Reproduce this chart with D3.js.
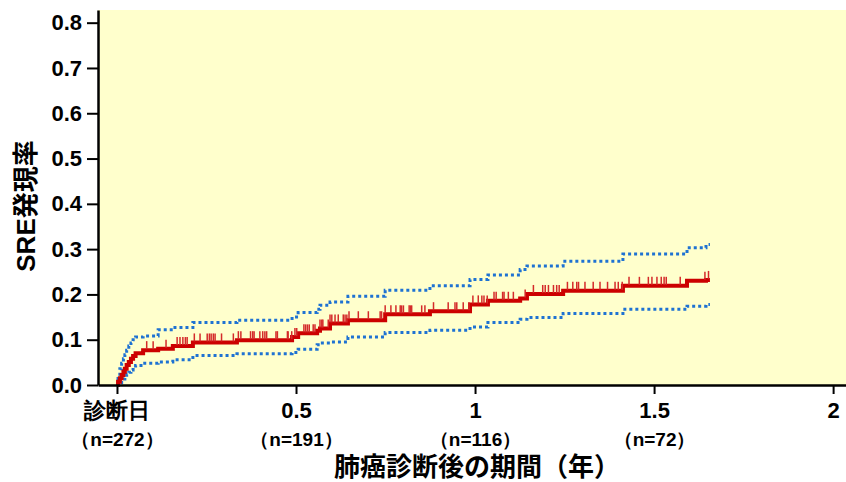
<!DOCTYPE html>
<html>
<head>
<meta charset="utf-8">
<script src="https://cdn.jsdelivr.net/npm/d3@7/dist/d3.min.js"></script>
<style>
  html, body { margin: 0; padding: 0; background: #fff; }
  svg { display: block; font-family: "Liberation Sans", Arial, "Noto Sans CJK JP", sans-serif; font-weight: bold; }
</style>
</head>
<body>
<svg id="chart" width="846" height="482"></svg>
<script>
// cumulative incidence of SRE after lung cancer diagnosis (years)
const stepTimes = [0, 0.003, 0.008, 0.013, 0.018, 0.022, 0.027, 0.033, 0.039, 0.045,
  0.052, 0.073, 0.115, 0.156, 0.212, 0.335, 0.489, 0.506, 0.559, 0.567,
  0.595, 0.645, 0.749, 0.874, 0.986, 1.036, 1.126, 1.145, 1.246, 1.413,
  1.592, 1.645];
const estimate = [0, 0.007, 0.015, 0.022, 0.029, 0.036, 0.044, 0.051, 0.058, 0.064,
  0.070, 0.077, 0.080, 0.086, 0.094, 0.099, 0.106, 0.114, 0.120, 0.125,
  0.136, 0.143, 0.156, 0.163, 0.178, 0.186, 0.191, 0.201, 0.208, 0.219,
  0.230, 0.232];
const upperCI = [0, 0.020, 0.036, 0.048, 0.058, 0.067, 0.077, 0.086, 0.093, 0.100,
  0.106, 0.108, 0.122, 0.127, 0.138, 0.143, 0.150, 0.160, 0.167, 0.176,
  0.183, 0.196, 0.209, 0.219, 0.233, 0.243, 0.255, 0.263, 0.273, 0.289,
  0.303, 0.310];
const lowerCI = [0, 0.002, 0.005, 0.009, 0.013, 0.018, 0.023, 0.028, 0.033, 0.038,
  0.043, 0.048, 0.051, 0.056, 0.065, 0.069, 0.072, 0.079, 0.089, 0.093,
  0.095, 0.106, 0.116, 0.121, 0.128, 0.138, 0.145, 0.149, 0.158, 0.167,
  0.174, 0.178];
const endTime = 1.656;

// censored observations (tick marks)
const censorTimes = [0.083, 0.101, 0.137, 0.168, 0.176, 0.184, 0.191, 0.196, 0.216, 0.232,
  0.252, 0.258, 0.263, 0.269, 0.274, 0.292, 0.325, 0.339, 0.346, 0.373,
  0.379, 0.383, 0.399, 0.407, 0.413, 0.418, 0.444, 0.448, 0.476, 0.478,
  0.488, 0.497, 0.502, 0.522, 0.527, 0.532, 0.537, 0.548, 0.553, 0.567,
  0.572, 0.575, 0.590, 0.595, 0.600, 0.609, 0.618, 0.632, 0.637, 0.642,
  0.648, 0.674, 0.702, 0.735, 0.739, 0.749, 0.765, 0.779, 0.791, 0.795,
  0.800, 0.816, 0.820, 0.823, 0.851, 0.860, 0.884, 0.925, 0.944, 0.949,
  0.967, 0.983, 0.994, 1.009, 1.019, 1.025, 1.034, 1.053, 1.059, 1.077,
  1.081, 1.093, 1.107, 1.140, 1.163, 1.189, 1.196, 1.205, 1.219, 1.228,
  1.235, 1.258, 1.273, 1.284, 1.289, 1.307, 1.330, 1.349, 1.370, 1.391,
  1.400, 1.411, 1.430, 1.459, 1.484, 1.494, 1.508, 1.520, 1.528, 1.534,
  1.573, 1.642, 1.652];

const xTicks = [0, 0.5, 1, 1.5, 2];
const xTickLabels = ['診断日', '0.5', '1', '1.5', '2'];
const atRiskLabels = ['（n=272）', '（n=191）', '（n=116）', '（n=72）', ''];
const yTicks = [0, 0.1, 0.2, 0.3, 0.4, 0.5, 0.6, 0.7, 0.8];
const xDomain = [-0.053, 2.036];
const yDomain = [0, 0.828];

const svg = d3.select('#chart');
const margin = { top: 10, right: 0, bottom: 97, left: 98 };
const width = 846 - margin.left - margin.right;
const height = 482 - margin.top - margin.bottom;

const g = svg.append('g').attr('transform', `translate(${margin.left},${margin.top})`);

const x = d3.scaleLinear().domain(xDomain).range([0, width]);
const y = d3.scaleLinear().domain(yDomain).range([height, 0]);

// plot background
g.append('rect').attr('width', width).attr('height', height).attr('fill', '#ffffcc');

function stepPoints(values) {
  const pts = stepTimes.map((t, i) => [t, values[i]]);
  pts.push([endTime, values[values.length - 1]]);
  return pts;
}

const line = d3.line().x(d => x(d[0])).y(d => y(d[1])).curve(d3.curveStepAfter);

// confidence band (dotted)
[upperCI, lowerCI].forEach(vals => {
  g.append('path')
    .datum(stepPoints(vals))
    .attr('d', line)
    .attr('fill', 'none')
    .attr('stroke', '#1e72d2')
    .attr('stroke-width', 3)
    .attr('stroke-dasharray', '3 3');
});

// estimate
g.append('path')
  .datum(stepPoints(estimate))
  .attr('d', line)
  .attr('fill', 'none')
  .attr('stroke', '#cc0000')
  .attr('stroke-width', 4);

// censor marks
const valueAt = t => estimate[Math.max(0, d3.bisectRight(stepTimes, t) - 1)];
g.selectAll('.censor')
  .data(censorTimes)
  .enter()
  .append('line')
  .attr('class', 'censor')
  .attr('x1', d => x(d)).attr('x2', d => x(d))
  .attr('y1', d => y(valueAt(d)) - 1)
  .attr('y2', d => y(valueAt(d)) - 9)
  .attr('stroke', '#d42a2a')
  .attr('stroke-width', 1.5);

// y axis
const yAxis = g.append('g')
  .call(d3.axisLeft(y).tickValues(yTicks).tickFormat(d3.format('.1f')).tickSize(11).tickSizeOuter(0).tickPadding(5));
yAxis.select('.domain').attr('stroke', '#000').attr('stroke-width', 2.5);
yAxis.selectAll('.tick line').attr('stroke', '#000').attr('stroke-width', 2);
yAxis.selectAll('text').attr('fill', '#000').style('font-size', '22px').style('font-weight', 'bold');

// x axis
const xAxis = g.append('g')
  .attr('transform', `translate(0,${height})`)
  .call(d3.axisBottom(x).tickValues(xTicks).tickSize(9).tickSizeOuter(0).tickFormat((d, i) => xTickLabels[i]));
xAxis.select('.domain').attr('stroke', '#000').attr('stroke-width', 2.5);
xAxis.selectAll('.tick line').attr('stroke', '#000').attr('stroke-width', 2);
xAxis.selectAll('.tick text')
  .attr('fill', '#000').attr('y', 33).attr('dy', 0)
  .style('font-size', '22px').style('font-weight', 'bold');
xAxis.selectAll('.tick').append('text')
  .attr('fill', '#000').attr('y', 61).attr('text-anchor', 'middle')
  .style('font-size', '19px').style('font-weight', 'bold')
  .text((d, i) => atRiskLabels[i]);

// axis titles
svg.append('text')
  .attr('x', 477).attr('y', 476)
  .attr('text-anchor', 'middle')
  .style('font-size', '26px')
  .text('肺癌診断後の期間（年）');

svg.append('text')
  .attr('transform', 'translate(35,206) rotate(-90)')
  .attr('text-anchor', 'middle')
  .style('font-size', '26px')
  .text('SRE発現率');
</script>
</body>
</html>
